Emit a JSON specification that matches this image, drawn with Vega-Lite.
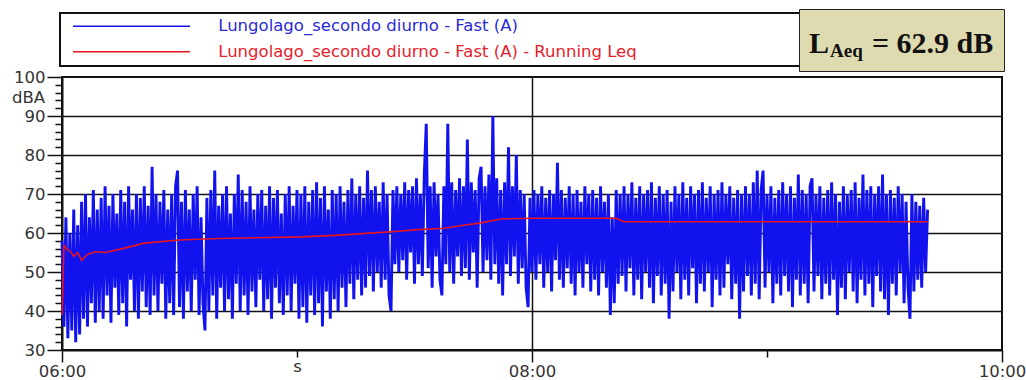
{
"$schema": "https://vega.github.io/schema/vega-lite/v6.json",
"width": 940, "height": 273,
"autosize": {"type": "none"},
"padding": {"left": 62, "top": 77, "right": 24, "bottom": 30},
"background": "white",
"config": {"view": {"stroke": "#111", "strokeWidth": 2}, "font": "DejaVu Sans"},
"datasets": {
"fast": [
{"t":0,"v":58},{"t":1,"v":36},{"t":2,"v":64},{"t":3,"v":33},{"t":4,"v":60},{"t":5,"v":35},{"t":6,"v":66},{"t":7,"v":32},{"t":8,"v":62},{"t":9,"v":34},
{"t":10,"v":68},{"t":11,"v":38},{"t":12,"v":70},{"t":13,"v":36},{"t":14,"v":64},{"t":15,"v":42},{"t":16,"v":71},{"t":17,"v":37},{"t":18,"v":66},{"t":19,"v":40},
{"t":20,"v":69},{"t":21,"v":38},{"t":22,"v":72},{"t":23,"v":44},{"t":24,"v":67},{"t":25,"v":37},{"t":26,"v":70},{"t":27,"v":46},{"t":28,"v":65},{"t":29,"v":39},
{"t":30,"v":71},{"t":31,"v":42},{"t":32,"v":68},{"t":33,"v":36},{"t":34,"v":72},{"t":35,"v":48},{"t":36,"v":66},{"t":37,"v":40},{"t":38,"v":70},{"t":39,"v":38},
{"t":40,"v":69},{"t":41,"v":45},{"t":42,"v":72},{"t":43,"v":41},{"t":44,"v":67},{"t":45,"v":39},{"t":46,"v":77},{"t":47,"v":44},{"t":48,"v":70},{"t":49,"v":40},
{"t":50,"v":68},{"t":51,"v":47},{"t":52,"v":71},{"t":53,"v":38},{"t":54,"v":66},{"t":55,"v":42},{"t":56,"v":70},{"t":57,"v":39},{"t":58,"v":72},{"t":59,"v":76},
{"t":60,"v":41},{"t":61,"v":68},{"t":62,"v":38},{"t":63,"v":71},{"t":64,"v":45},{"t":65,"v":66},{"t":66,"v":40},{"t":67,"v":70},{"t":68,"v":48},{"t":69,"v":72},
{"t":70,"v":39},{"t":71,"v":64},{"t":72,"v":42},{"t":73,"v":35},{"t":74,"v":69},{"t":75,"v":40},{"t":76,"v":71},{"t":77,"v":44},{"t":78,"v":76},{"t":79,"v":38},
{"t":80,"v":67},{"t":81,"v":46},{"t":82,"v":70},{"t":83,"v":40},{"t":84,"v":72},{"t":85,"v":43},{"t":86,"v":65},{"t":87,"v":38},{"t":88,"v":70},{"t":89,"v":47},
{"t":90,"v":75},{"t":91,"v":40},{"t":92,"v":71},{"t":93,"v":44},{"t":94,"v":68},{"t":95,"v":39},{"t":96,"v":72},{"t":97,"v":45},{"t":98,"v":66},{"t":99,"v":41},
{"t":100,"v":70},{"t":101,"v":48},{"t":102,"v":71},{"t":103,"v":40},{"t":104,"v":67},{"t":105,"v":43},{"t":106,"v":72},{"t":107,"v":38},{"t":108,"v":69},{"t":109,"v":46},
{"t":110,"v":71},{"t":111,"v":42},{"t":112,"v":65},{"t":113,"v":39},{"t":114,"v":70},{"t":115,"v":44},{"t":116,"v":72},{"t":117,"v":40},{"t":118,"v":67},{"t":119,"v":47},
{"t":120,"v":71},{"t":121,"v":38},{"t":122,"v":70},{"t":123,"v":41},{"t":124,"v":72},{"t":125,"v":37},{"t":126,"v":68},{"t":127,"v":44},{"t":128,"v":71},{"t":129,"v":39},
{"t":130,"v":73},{"t":131,"v":42},{"t":132,"v":69},{"t":133,"v":36},{"t":134,"v":72},{"t":135,"v":45},{"t":136,"v":66},{"t":137,"v":38},{"t":138,"v":71},{"t":139,"v":43},
{"t":140,"v":70},{"t":141,"v":40},{"t":142,"v":72},{"t":143,"v":46},{"t":144,"v":68},{"t":145,"v":41},{"t":146,"v":71},{"t":147,"v":47},{"t":148,"v":74},{"t":149,"v":43},
{"t":150,"v":70},{"t":151,"v":48},{"t":152,"v":72},{"t":153,"v":44},{"t":154,"v":69},{"t":155,"v":46},{"t":156,"v":76},{"t":157,"v":49},{"t":158,"v":71},{"t":159,"v":45},
{"t":160,"v":72},{"t":161,"v":50},{"t":162,"v":68},{"t":163,"v":46},{"t":164,"v":73},{"t":165,"v":48},{"t":166,"v":70},{"t":167,"v":44},{"t":168,"v":40},{"t":169,"v":71},
{"t":170,"v":52},{"t":171,"v":72},{"t":172,"v":50},{"t":173,"v":70},{"t":174,"v":53},{"t":175,"v":73},{"t":176,"v":48},{"t":177,"v":71},{"t":178,"v":55},{"t":179,"v":72},
{"t":180,"v":47},{"t":181,"v":74},{"t":182,"v":52},{"t":183,"v":70},{"t":184,"v":49},{"t":185,"v":75},{"t":186,"v":88},{"t":187,"v":51},{"t":188,"v":72},{"t":189,"v":46},
{"t":190,"v":73},{"t":191,"v":54},{"t":192,"v":70},{"t":193,"v":48},{"t":194,"v":44},{"t":195,"v":72},{"t":196,"v":52},{"t":197,"v":88},{"t":198,"v":50},{"t":199,"v":73},
{"t":200,"v":47},{"t":201,"v":71},{"t":202,"v":54},{"t":203,"v":74},{"t":204,"v":49},{"t":205,"v":72},{"t":206,"v":51},{"t":207,"v":84},{"t":208,"v":48},{"t":209,"v":73},
{"t":210,"v":55},{"t":211,"v":71},{"t":212,"v":46},{"t":213,"v":74},{"t":214,"v":77},{"t":215,"v":50},{"t":216,"v":72},{"t":217,"v":53},{"t":218,"v":75},{"t":219,"v":48},
{"t":220,"v":90},{"t":221,"v":52},{"t":222,"v":74},{"t":223,"v":47},{"t":224,"v":71},{"t":225,"v":44},{"t":226,"v":73},{"t":227,"v":52},{"t":228,"v":82},{"t":229,"v":49},
{"t":230,"v":72},{"t":231,"v":54},{"t":232,"v":80},{"t":233,"v":47},{"t":234,"v":71},{"t":235,"v":51},{"t":236,"v":70},{"t":237,"v":46},{"t":238,"v":41},{"t":239,"v":69},
{"t":240,"v":50},{"t":241,"v":71},{"t":242,"v":48},{"t":243,"v":70},{"t":244,"v":52},{"t":245,"v":72},{"t":246,"v":46},{"t":247,"v":69},{"t":248,"v":50},{"t":249,"v":71},
{"t":250,"v":45},{"t":251,"v":70},{"t":252,"v":53},{"t":253,"v":78},{"t":254,"v":48},{"t":255,"v":71},{"t":256,"v":46},{"t":257,"v":69},{"t":258,"v":51},{"t":259,"v":72},
{"t":260,"v":47},{"t":261,"v":70},{"t":262,"v":44},{"t":263,"v":71},{"t":264,"v":50},{"t":265,"v":68},{"t":266,"v":46},{"t":267,"v":72},{"t":268,"v":52},{"t":269,"v":70},
{"t":270,"v":45},{"t":271,"v":71},{"t":272,"v":48},{"t":273,"v":69},{"t":274,"v":44},{"t":275,"v":72},{"t":276,"v":50},{"t":277,"v":68},{"t":278,"v":46},{"t":279,"v":70},
{"t":280,"v":39},{"t":281,"v":64},{"t":282,"v":42},{"t":283,"v":71},{"t":284,"v":47},{"t":285,"v":70},{"t":286,"v":49},{"t":287,"v":72},{"t":288,"v":45},{"t":289,"v":70},
{"t":290,"v":51},{"t":291,"v":73},{"t":292,"v":44},{"t":293,"v":69},{"t":294,"v":48},{"t":295,"v":72},{"t":296,"v":43},{"t":297,"v":70},{"t":298,"v":50},{"t":299,"v":71},
{"t":300,"v":46},{"t":301,"v":73},{"t":302,"v":42},{"t":303,"v":69},{"t":304,"v":49},{"t":305,"v":72},{"t":306,"v":44},{"t":307,"v":70},{"t":308,"v":47},{"t":309,"v":71},
{"t":310,"v":38},{"t":311,"v":68},{"t":312,"v":45},{"t":313,"v":72},{"t":314,"v":50},{"t":315,"v":70},{"t":316,"v":43},{"t":317,"v":73},{"t":318,"v":48},{"t":319,"v":69},
{"t":320,"v":44},{"t":321,"v":72},{"t":322,"v":51},{"t":323,"v":70},{"t":324,"v":42},{"t":325,"v":71},{"t":326,"v":47},{"t":327,"v":73},{"t":328,"v":45},{"t":329,"v":69},
{"t":330,"v":50},{"t":331,"v":72},{"t":332,"v":41},{"t":333,"v":70},{"t":334,"v":48},{"t":335,"v":71},{"t":336,"v":44},{"t":337,"v":73},{"t":338,"v":46},{"t":339,"v":70},
{"t":340,"v":52},{"t":341,"v":72},{"t":342,"v":43},{"t":343,"v":69},{"t":344,"v":47},{"t":345,"v":71},{"t":346,"v":38},{"t":347,"v":70},{"t":348,"v":45},{"t":349,"v":72},
{"t":350,"v":49},{"t":351,"v":70},{"t":352,"v":44},{"t":353,"v":73},{"t":354,"v":47},{"t":355,"v":76},{"t":356,"v":43},{"t":357,"v":71},{"t":358,"v":76},{"t":359,"v":46},
{"t":360,"v":70},{"t":361,"v":50},{"t":362,"v":72},{"t":363,"v":42},{"t":364,"v":69},{"t":365,"v":47},{"t":366,"v":71},{"t":367,"v":44},{"t":368,"v":73},{"t":369,"v":49},
{"t":370,"v":70},{"t":371,"v":45},{"t":372,"v":72},{"t":373,"v":41},{"t":374,"v":69},{"t":375,"v":48},{"t":376,"v":75},{"t":377,"v":44},{"t":378,"v":71},{"t":379,"v":47},
{"t":380,"v":70},{"t":381,"v":42},{"t":382,"v":72},{"t":383,"v":74},{"t":384,"v":45},{"t":385,"v":70},{"t":386,"v":49},{"t":387,"v":72},{"t":388,"v":43},{"t":389,"v":69},
{"t":390,"v":47},{"t":391,"v":71},{"t":392,"v":44},{"t":393,"v":73},{"t":394,"v":48},{"t":395,"v":70},{"t":396,"v":39},{"t":397,"v":68},{"t":398,"v":46},{"t":399,"v":72},
{"t":400,"v":43},{"t":401,"v":70},{"t":402,"v":50},{"t":403,"v":71},{"t":404,"v":45},{"t":405,"v":73},{"t":406,"v":42},{"t":407,"v":69},{"t":408,"v":48},{"t":409,"v":75},
{"t":410,"v":44},{"t":411,"v":71},{"t":412,"v":47},{"t":413,"v":72},{"t":414,"v":41},{"t":415,"v":70},{"t":416,"v":49},{"t":417,"v":72},{"t":418,"v":45},{"t":419,"v":75},
{"t":420,"v":43},{"t":421,"v":70},{"t":422,"v":39},{"t":423,"v":71},{"t":424,"v":47},{"t":425,"v":69},{"t":426,"v":44},{"t":427,"v":72},{"t":428,"v":50},{"t":429,"v":70},
{"t":430,"v":42},{"t":431,"v":68},{"t":432,"v":46},{"t":433,"v":38},{"t":434,"v":70},{"t":435,"v":45},{"t":436,"v":68},{"t":437,"v":48},{"t":438,"v":67},{"t":439,"v":46},
{"t":440,"v":69},{"t":441,"v":50},{"t":442,"v":66}
],
"leq": [
{"t":0,"v":39},{"t":1,"v":57},{"t":2,"v":56},{"t":4,"v":55.5},{"t":6,"v":54},{"t":8,"v":55},{"t":10,"v":53},{"t":13,"v":54.5},{"t":17,"v":55.2},{"t":22,"v":55},
{"t":31,"v":56},{"t":42,"v":57.4},{"t":60,"v":58.2},{"t":80,"v":58.6},{"t":100,"v":58.8},{"t":122,"v":59},{"t":140,"v":59.4},{"t":155,"v":59.9},{"t":170,"v":60.4},
{"t":180,"v":60.8},{"t":195,"v":61.2},{"t":205,"v":62},{"t":214,"v":62.6},{"t":224,"v":63.6},{"t":240,"v":63.8},{"t":283,"v":63.8},{"t":287,"v":62.9},{"t":442,"v":62.9}
],
"laeq": [{"part":"L"},{"part":"Aeq"},{"part":"= 62.9 dB"}]
},
"encoding": {
 "x": {"field":"t","type":"quantitative","scale":{"domain":[0,480],"nice":false,"zero":false},
  "axis": {"title": null, "values":[0,120,240,360,480],
   "labelExpr":"datum.value===0?'06:00':datum.value===120?'s':datum.value===240?'08:00':datum.value===480?'10:00':''",
   "labelFlush": false, "labelOverlap": false, "labelFont":"DejaVu Sans","labelFontSize":16.5,"labelColor":"#333","labelPadding":1,
   "tickColor":"#111","tickWidth":1.5,"tickSize":{"condition":{"test":"datum.value===120||datum.value===360","value":7},"value":12},
   "grid":true,"gridColor":"#111","gridWidth":1.5,"gridOpacity":{"condition":{"test":"datum.value===240","value":1},"value":0},
   "domainColor":"#111","domainWidth":2}},
 "y": {"field":"v","type":"quantitative","scale":{"domain":[30,100],"nice":false,"zero":false},
  "axis": {"title":"dBA","titleAngle":0,"titleX":-34,"titleY":20,"titleAlign":"center","titleBaseline":"middle","titleFont":"DejaVu Sans","titleFontSize":16.5,"titleFontWeight":"normal","titleColor":"#333",
   "values":[30,32,34,36,38,40,42,44,46,48,50,52,54,56,58,60,62,64,66,68,70,72,74,76,78,80,82,84,86,88,90,92,94,96,98,100],
   "labelExpr":"datum.value % 10 === 0 ? datum.label : ''","labelOverlap":false,"labelFont":"DejaVu Sans","labelFontSize":16.5,"labelColor":"#333","labelPadding":2,
   "tickColor":"#111","tickWidth":1.5,"tickSize":{"condition":{"test":"datum.value % 10 !== 0","value":7},"value":15},
   "grid":true,"gridColor":"#111","gridWidth":1.5,"gridOpacity":{"condition":{"test":"datum.value % 10 === 0 && datum.value > 30 && datum.value < 100","value":1},"value":0},
   "domainColor":"#111","domainWidth":2}}
},
"layer": [
 {"data":{"name":"fast"},"mark":{"type":"line","strokeWidth":2.9,"strokeJoin":"bevel"},
  "encoding":{"color":{"datum":"Lungolago_secondo diurno - Fast (A)","type":"nominal",
   "scale":{"domain":["Lungolago_secondo diurno - Fast (A)","Lungolago_secondo diurno - Fast (A) - Running Leq"],"range":["#1212ee","#e8141e"]},
   "legend":{"orient":"none","legendX":-2,"legendY":-64,"title":null,"direction":"vertical",
    "symbolType":"M-10,0H10M114.4,0","symbolSize":137,"symbolStrokeWidth":1.5,"symbolOffset":58.25,
    "labelFont":"DejaVu Sans","labelFontSize":16.5,"labelOffset":78.5,"labelLimit":0,"rowPadding":8.5,
    "padding":5,"strokeColor":"#111","fillColor":"white",
    "encode":{"labels":{"update":{"fill":{"signal":"datum.label === 'Lungolago_secondo diurno - Fast (A) - Running Leq' ? '#e8202a' : '#2a2ad8'"}}},
     "legend":{"update":{"strokeWidth":{"value":2}}}}}}}},
 {"data":{"name":"leq"},"mark":{"type":"line","strokeWidth":1.6},
  "encoding":{"color":{"datum":"Lungolago_secondo diurno - Fast (A) - Running Leq","type":"nominal"}}},
 {"data":{"name":"laeq"},"mark":{"type":"point","opacity":0,"size":0},
  "encoding":{"x":{"datum":0},"y":{"datum":30},
   "shape":{"field":"part","type":"nominal","scale":{"domain":["L","Aeq","= 62.9 dB"]},
    "legend":{"orient":"none","legendX":737,"legendY":-68,"title":"\u00a0","titleFontSize":2,"titlePadding":6,"direction":"horizontal","columns":3,
     "symbolOpacity":0,"symbolSize":0,"symbolStrokeWidth":0,
     "labelOffset":{"expr":"datum.label === '= 62.9 dB' ? -21 : -30"},"columnPadding":0,
     "labelFont":"Liberation Serif","labelFontWeight":"bold",
     "labelFontSize":{"expr":"datum.label === 'Aeq' ? 19 : 30"},
     "labelBaseline":{"expr":"datum.label === 'Aeq' ? 'top' : 'middle'"},
     "labelColor":"#111","labelLimit":0,
     "padding":10,"fillColor":"#dfdbb0","strokeColor":"#222",
     "encode":{"legend":{"update":{"strokeWidth":{"value":2}}}}}}}}
]
}
